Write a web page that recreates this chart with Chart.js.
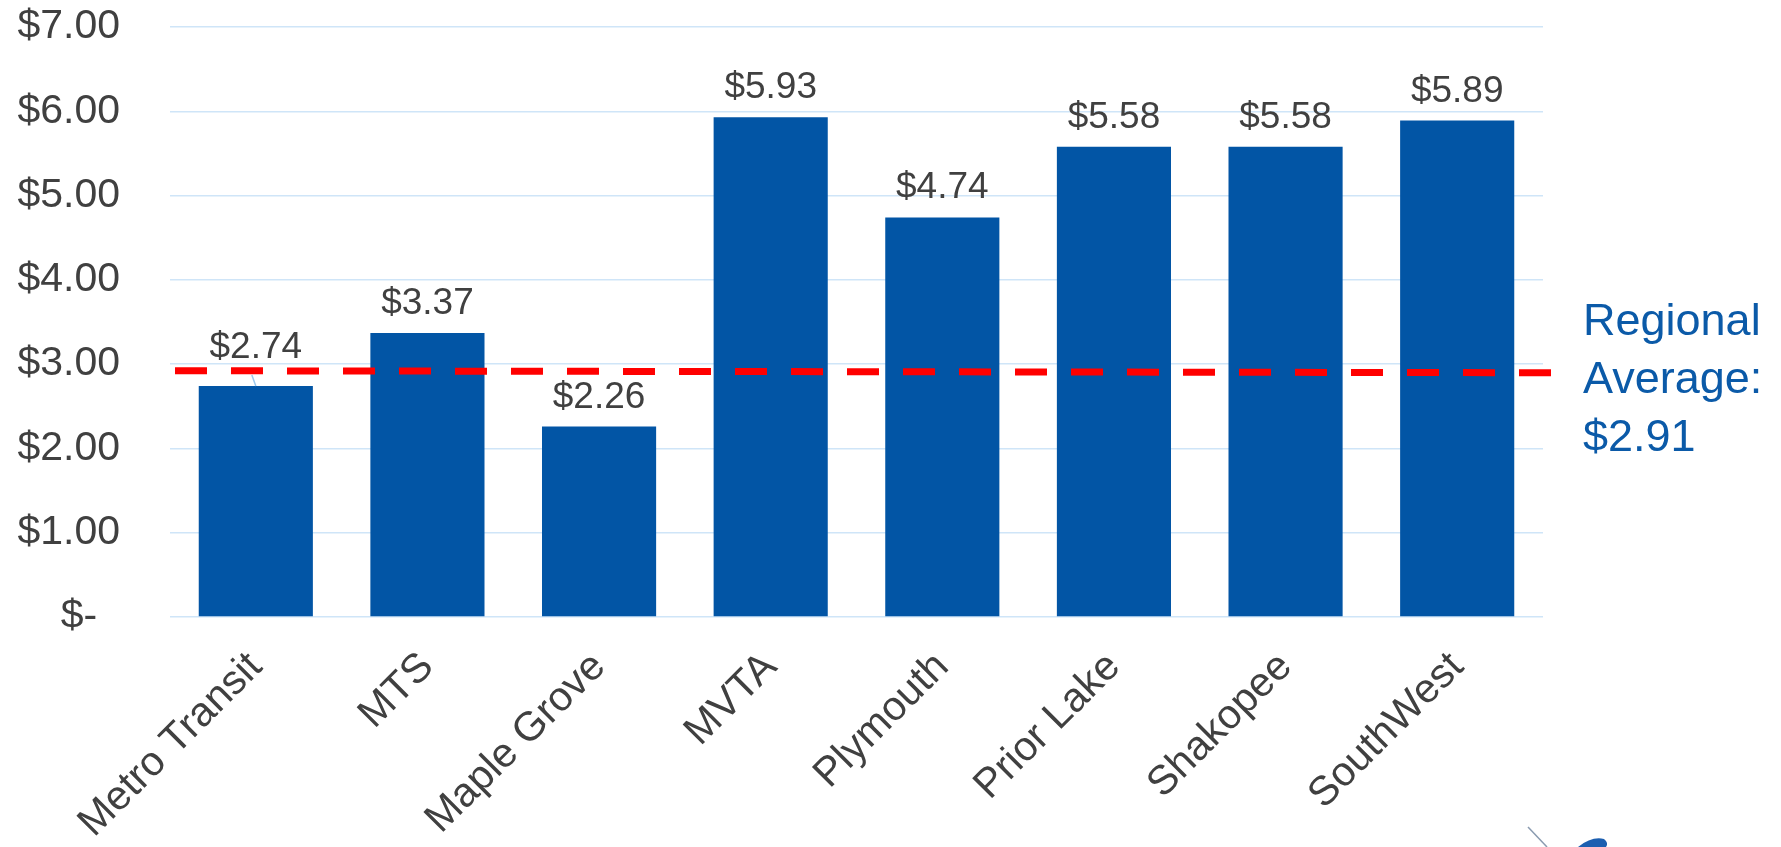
<!DOCTYPE html>
<html>
<head>
<meta charset="utf-8">
<script src="https://cdn.jsdelivr.net/npm/chart.js@4"></script>
<style>
html,body{margin:0;padding:0;background:#fff;}
#wrap{width:1781px;height:847px;position:relative;}
</style>
</head>
<body>
<div id="wrap"><canvas id="c" width="1781" height="847"></canvas></div>
<script>
const categories = ["Metro Transit","MTS","Maple Grove","MVTA","Plymouth","Prior Lake","Shakopee","SouthWest"];
const costPerRide = [2.74, 3.37, 2.26, 5.93, 4.74, 5.58, 5.58, 5.89];
const valueLabels = ["$2.74","$3.37","$2.26","$5.93","$4.74","$5.58","$5.58","$5.89"];
const yTicks = [0,1,2,3,4,5,6,7];
const yTickLabels = ["$-  ","$1.00","$2.00","$3.00","$4.00","$5.00","$6.00","$7.00"];
const regionalAverage = 2.91;
const averageLabel = ["Regional","Average:","$2.91"];

const FONT = "'Liberation Sans', Arial, sans-serif";

const overlay = {
  id: 'overlay',
  afterDatasetsDraw(chart) {
    const ctx = chart.ctx;
    const y = chart.scales.y;
    const meta = chart.getDatasetMeta(0);
    ctx.save();
    // value labels
    ctx.font = "37px " + FONT;
    ctx.fillStyle = "#404040";
    ctx.textAlign = "center";
    ctx.textBaseline = "alphabetic";
    meta.data.forEach((bar, i) => {
      const lift = i === 0 ? 28 : 19;
      ctx.fillText(valueLabels[i], bar.x, bar.y - lift);
      if (i === 0) {
        ctx.strokeStyle = "#9CC8EE";
        ctx.lineWidth = 1.5;
        ctx.beginPath();
        ctx.moveTo(bar.x - 4, bar.y - 11);
        ctx.lineTo(bar.x, bar.y);
        ctx.stroke();
      }
    });
    // regional average dashed line
    const ya = y.getPixelForValue(regionalAverage);
    ctx.strokeStyle = "#FF0000";
    ctx.lineWidth = 7;
    ctx.setLineDash([32, 24]);
    ctx.beginPath();
    ctx.moveTo(chart.chartArea.left + 5, ya - 1);
    ctx.lineTo(chart.chartArea.right + 8, ya + 1);
    ctx.stroke();
    ctx.setLineDash([]);
    // annotation text
    ctx.font = "45px " + FONT;
    ctx.fillStyle = "#0B5AA8";
    ctx.textAlign = "left";
    ctx.textBaseline = "middle";
    averageLabel.forEach((t, i) => ctx.fillText(t, chart.chartArea.right + 40, 323 + i * 58));
    // partial logo at bottom right
    ctx.strokeStyle = "#8A9BB0";
    ctx.lineWidth = 1.5;
    ctx.beginPath();
    ctx.moveTo(1528, 827);
    ctx.lineTo(1547, 847);
    ctx.stroke();
    ctx.fillStyle = "#1C5FB0";
    ctx.beginPath();
    ctx.moveTo(1578, 847);
    ctx.quadraticCurveTo(1592, 836, 1604, 839);
    ctx.quadraticCurveTo(1609, 843, 1606, 847);
    ctx.closePath();
    ctx.fill();
    ctx.restore();
  }
};

new Chart(document.getElementById('c'), {
  type: 'bar',
  data: {
    labels: categories,
    datasets: [{
      data: costPerRide,
      backgroundColor: '#0255A5',
      borderWidth: 0,
      categoryPercentage: 1,
      barPercentage: 0.665
    }]
  },
  options: {
    responsive: false,
    animation: false,
    layout: { padding: { top: 27, left: 15, right: 238, bottom: 0 } },
    plugins: { legend: { display: false }, tooltip: { enabled: false } },
    scales: {
      x: {
        grid: { display: false },
        border: { display: false },
        ticks: {
          color: '#404040',
          font: { family: FONT, size: 41 },
          minRotation: 45, maxRotation: 45,
          padding: 18
        },
        afterFit(s) { s.height = 230; }
      },
      y: {
        min: 0, max: 7,
        afterBuildTicks(s) { s.ticks = yTicks.map(v => ({ value: v })); },
        grid: { color: '#CFE5F8', lineWidth: 1.5, drawTicks: true, tickLength: 50, tickColor: 'rgba(0,0,0,0)' },
        border: { display: false },
        ticks: {
          color: '#404040',
          font: { family: FONT, size: 41 },
          padding: 0,
          callback(v) { return yTickLabels[yTicks.indexOf(v)]; }
        },
        afterFit(s) { s.width = 155; }
      }
    }
  },
  plugins: [overlay]
});
</script>
</body>
</html>
